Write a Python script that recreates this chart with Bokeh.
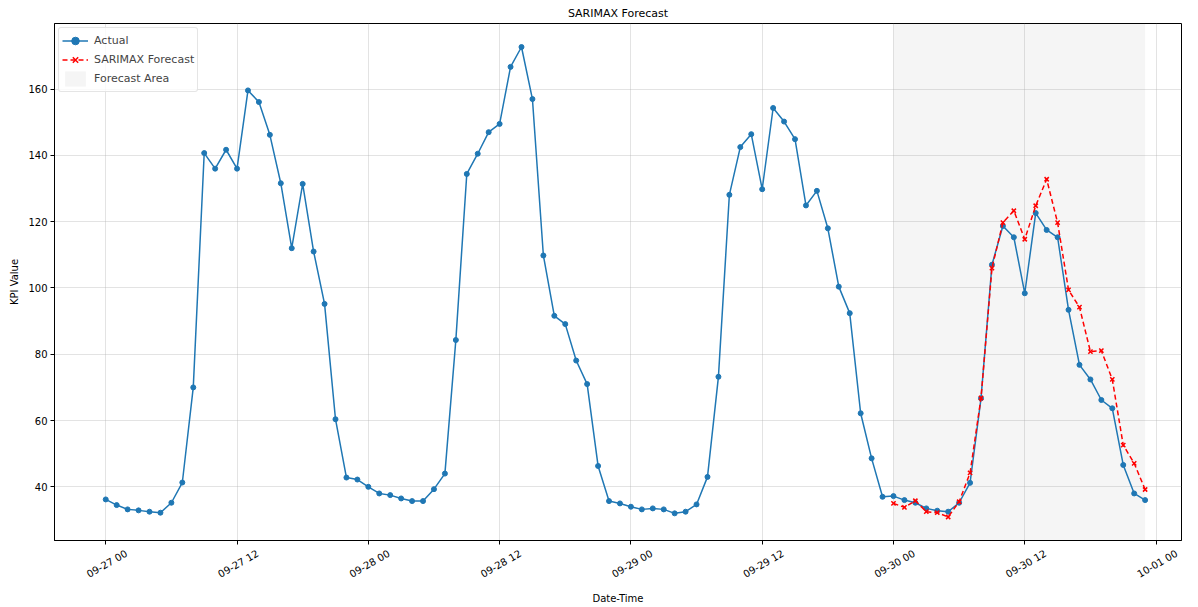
import math
import pandas as pd
from bokeh.plotting import figure
from bokeh.models import (Range1d, FixedTicker, Legend, LegendItem,
                          ColumnDataSource, CustomJSTickFormatter, DatetimeAxis)
from bokeh.embed import file_html
from bokeh.resources import INLINE

# ---------------- data ----------------
start_time = "2024-09-27 00:00"
actual_values = [
    36.2, 34.5, 33.2, 32.9, 32.5, 32.2, 35.2, 41.3, 70.0, 140.7, 136.0, 141.7,
    136.0, 159.6, 156.1, 146.2, 131.6, 112.0, 131.4, 111.0, 95.2, 60.4, 42.8, 42.2,
    40.0, 38.0, 37.5, 36.5, 35.7, 35.7, 39.3, 44.0, 84.3, 134.4, 140.5, 147.0,
    149.5, 166.7, 172.7, 157.0, 109.8, 91.6, 89.1, 78.1, 71.0, 46.3, 35.7, 35.0,
    34.0, 33.2, 33.5, 33.2, 32.0, 32.5, 34.7, 43.0, 73.2, 128.1, 142.5, 146.4,
    129.8, 154.3, 150.2, 144.9, 124.9, 129.3, 118.0, 100.4, 92.4, 62.2, 48.6, 37.0,
    37.2, 36.0, 35.2, 33.5, 32.8, 32.5, 35.2, 41.2, 66.7, 107.0, 118.7, 115.3,
    98.4, 122.6, 117.5, 115.3, 93.4, 76.8, 72.4, 66.2, 63.7, 46.6, 38.0, 36.0,
]
forecast_start = "2024-09-30 00:00"
forecast_values = [
    35.0, 33.8, 35.8, 32.5, 32.2, 30.9, 35.5, 44.2, 66.8, 106.0, 119.7, 123.3,
    114.7, 124.8, 132.8, 119.7, 99.4, 94.2, 80.8, 81.1, 72.4, 52.6, 47.1, 39.2,
]
tick_start = "2024-09-27 00:00"
tick_end = "2024-10-01 00:00"
tick_step = "12h"
tick_format = "%m-%d %H"
y_ticks = [40, 60, 80, 100, 120, 140, 160]

actual_time = pd.date_range(start_time, periods=len(actual_values), freq="h")
forecast_time = pd.date_range(forecast_start, periods=len(forecast_values), freq="h")
tick_times = pd.date_range(tick_start, tick_end, freq=tick_step)
tick_labels = [t.strftime(tick_format) for t in tick_times]

src_a = ColumnDataSource(dict(t=actual_time, v=actual_values))
src_f = ColumnDataSource(dict(t=forecast_time, v=forecast_values))

# ranges with margins like matplotlib
all_vals = actual_values + forecast_values
vmin, vmax = min(all_vals), max(all_vals)
ypad = (vmax - vmin) * 0.05
y_lo, y_hi = vmin - ypad, vmax + ypad
t0, t1 = actual_time[0], actual_time[-1]
span = t1 - t0
x_lo = t0 - span * 0.0493
x_hi = t0 + span * 1.035

p = figure(width=1198, height=607, x_axis_type="datetime",
           output_backend="svg", toolbar_location=None,
           x_range=Range1d(x_lo, x_hi), y_range=Range1d(y_lo, y_hi),
           min_border_left=54, min_border_right=17, min_border_top=23,
           min_border_bottom=67, background_fill_color="white",
           border_fill_color="white")

p.title.text = "SARIMAX Forecast"
p.title.align = "center"
p.title.vertical_align = "top"
p.title.text_font = "DejaVu Sans"
p.title.text_font_size = "11px"
p.title.text_font_style = "normal"
p.title.text_color = "black"
p.title.standoff = 4
p.title.offset = 0

# forecast area
area = p.quad(left=[forecast_time[0]], right=[forecast_time[-1]],
              bottom=[y_lo], top=[y_hi], fill_color="gray", fill_alpha=0.08,
              line_color="gray", line_alpha=0.0)

a_line = p.line("t", "v", source=src_a, line_color="#1f77b4", line_width=1.5)
a_pts = p.scatter("t", "v", source=src_a, marker="circle", size=5,
                  fill_color="#1f77b4", line_color="#1f77b4")
f_line = p.line("t", "v", source=src_f, line_color="red", line_width=1.5,
                line_dash="5 3")
f_pts = p.scatter("t", "v", source=src_f, marker="x", size=6,
                  line_color="red", line_width=1.5)

# x axis 1: tick marks at the true times, no labels
tick_ms = [int(t.value // 10**6) for t in tick_times]
main_ticker = FixedTicker(ticks=tick_ms)
p.xaxis.ticker = main_ticker
p.xgrid.ticker = main_ticker
p.xaxis.formatter = CustomJSTickFormatter(code="return '';")
p.xaxis.major_label_standoff = 0

# x axis 2: rotated labels, shifted so each label is centred on its tick
label_shift_ms = int(1.9 * 3600 * 1000)
label_axis = DatetimeAxis(
    ticker=FixedTicker(ticks=[m + label_shift_ms for m in tick_ms]),
    formatter=CustomJSTickFormatter(args=dict(labels=tick_labels),
                                    code="return labels[index];"),
    major_label_orientation=math.pi / 6,
    axis_line_color=None, major_tick_line_color=None,
    major_tick_out=0, major_tick_in=0, minor_tick_line_color=None,
    major_label_standoff=8,
    major_label_text_font="DejaVu Sans", major_label_text_font_size="10px",
    major_label_text_color="black",
    axis_label="Date-Time", axis_label_text_font="DejaVu Sans",
    axis_label_text_font_size="10px", axis_label_text_font_style="normal",
    axis_label_text_color="black", axis_label_standoff=5)
p.add_layout(label_axis, "below")

p.yaxis.ticker = FixedTicker(ticks=y_ticks)

for ax in (p.xaxis[0], p.yaxis[0]):
    ax.axis_line_color = "black"
    ax.major_tick_line_color = "black"
    ax.major_tick_out = 4
    ax.major_tick_in = 0
    ax.minor_tick_line_color = None
    ax.major_label_text_font = "DejaVu Sans"
    ax.major_label_text_font_size = "10px"
    ax.major_label_text_color = "black"
    ax.axis_label_text_font = "DejaVu Sans"
    ax.axis_label_text_font_size = "10px"
    ax.axis_label_text_font_style = "normal"
    ax.axis_label_text_color = "black"

p.yaxis.major_label_standoff = 3
p.yaxis.axis_label = "KPI Value"
p.yaxis.axis_label_standoff = 5

p.outline_line_color = "black"
p.outline_line_alpha = 1.0
p.outline_line_width = 1

p.xgrid.grid_line_color = "#b0b0b0"
p.xgrid.grid_line_alpha = 0.35
p.ygrid.grid_line_color = "#b0b0b0"
p.ygrid.grid_line_alpha = 0.35

legend = Legend(items=[
    LegendItem(label="Actual", renderers=[a_line, a_pts]),
    LegendItem(label="SARIMAX Forecast", renderers=[f_line, f_pts]),
    LegendItem(label="Forecast Area", renderers=[area]),
], location="top_left")
legend.margin = 4
legend.padding = 3
legend.spacing = 0
legend.label_text_font = "DejaVu Sans"
legend.label_text_font_size = "11px"
legend.label_height = 19
legend.glyph_height = 19
legend.glyph_width = 26
legend.label_standoff = 6
legend.border_line_color = "#cccccc"
legend.border_radius = 3
legend.background_fill_alpha = 0.8
p.add_layout(legend)

open("out.html", "w").write(file_html(p, INLINE))
